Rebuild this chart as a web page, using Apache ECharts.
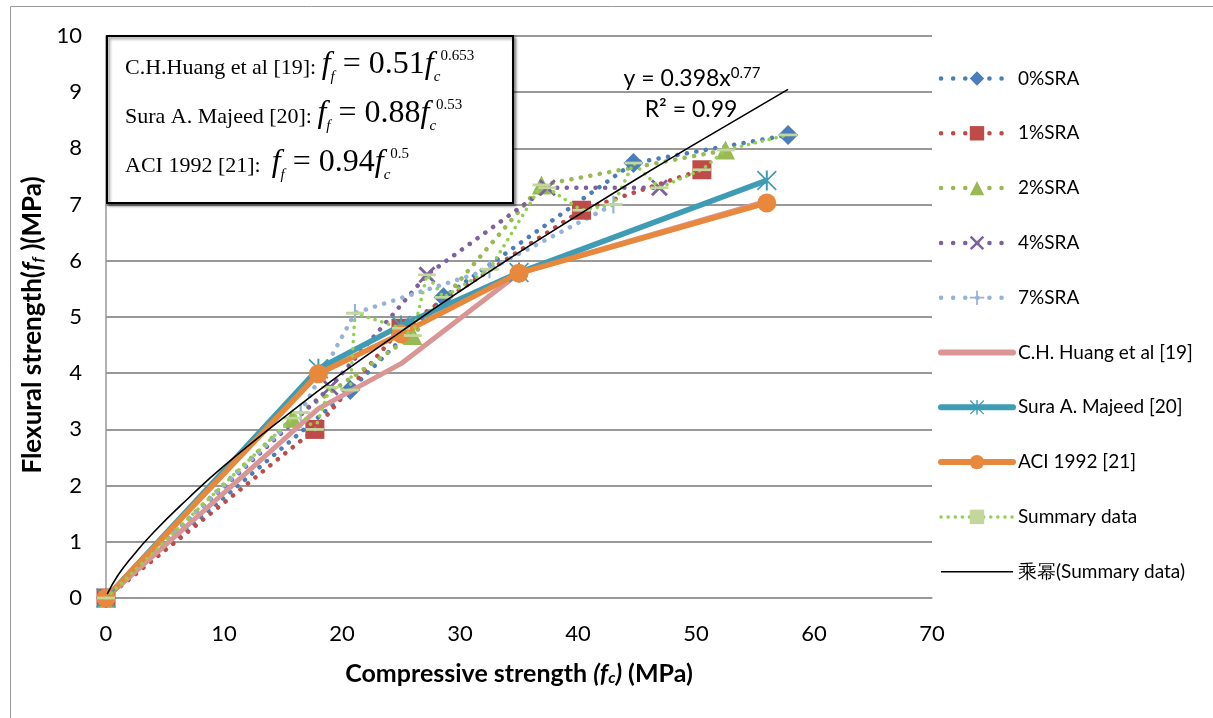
<!DOCTYPE html>
<html><head><meta charset="utf-8">
<script src="https://cdn.jsdelivr.net/npm/echarts@6/dist/echarts.min.js"></script>
<style>html,body{margin:0;padding:0;background:#fff}#c{width:1213px;height:718px}</style>
</head><body><div id="c"></div><script>
// ---- data ----
const xTicks = [0, 10, 20, 30, 40, 50, 60, 70];
const yTicks = [0, 1, 2, 3, 4, 5, 6, 7, 8, 9, 10];

const sra0x = [0, 20.7, 28.6, 44.7, 57.8];
const sra0y = [0, 3.70, 5.35, 7.74, 8.24];
const sra1x = [0, 17.7, 25.0, 40.3, 50.5];
const sra1y = [0, 3.00, 4.80, 6.90, 7.62];
const sra2x = [0, 15.8, 26.0, 36.9, 52.5];
const sra2y = [0, 3.20, 4.67, 7.35, 7.97];
const sra4x = [0, 19.0, 27.2, 37.4, 46.9];
const sra4y = [0, 3.75, 5.75, 7.30, 7.30];
const sra7x = [0, 16.5, 21.1, 32.5, 43.0];
const sra7y = [0, 3.30, 5.07, 5.85, 7.00];

const huangX = [0, 18, 25, 35, 56];
const huangY = [0, 3.37, 4.17, 5.78, 7.06];
const suraX = [0, 18, 25, 35, 56];
const suraY = [0, 4.08, 4.85, 5.79, 7.43];
const aciX = [0, 18, 25, 35, 56];
const aciY = [0, 3.99, 4.70, 5.78, 7.03];

const sumX = [0, 15.8, 16.5, 17.7, 19.0, 20.7, 21.1, 25.0, 26.0, 27.2, 28.6, 32.5, 36.9, 37.4, 40.3, 43.0, 44.7, 46.9, 50.5, 52.5, 57.8];
const sumY = [0, 3.20, 3.30, 3.00, 3.75, 3.70, 5.07, 4.80, 4.67, 5.75, 5.35, 5.85, 7.35, 7.30, 6.90, 7.00, 7.74, 7.30, 7.62, 7.97, 8.24];

const trendX = [0.1, 1, 2, 4, 7, 10, 15, 20, 25, 30, 35, 40, 45, 50, 57.8];
const trendY = [0.07, 0.40, 0.68, 1.16, 1.78, 2.35, 3.20, 4.00, 4.74, 5.46, 6.15, 6.81, 7.46, 8.09, 9.05];

const names = ['0%SRA', '1%SRA', '2%SRA', '4%SRA', '7%SRA', 'C.H. Huang et al [19]', 'Sura A. Majeed [20]', 'ACI 1992 [21]', 'Summary data', '乘幂(Summary data)'];
const trendLabel = ['y = 0.398x', '0.77', 'R² = 0.99'];

// ---- helpers ----
const pairs = (xs, ys) => xs.map((x, i) => [x, ys[i]]);
const SYM_X = 'path://M0,1.2 L1.2,0 L5,3.8 L8.8,0 L10,1.2 L6.2,5 L10,8.8 L8.8,10 L5,6.2 L1.2,10 L0,8.8 L3.8,5 Z';
const SYM_PLUS = 'path://M4.4,0 L5.6,0 L5.6,4.4 L10,4.4 L10,5.6 L5.6,5.6 L5.6,10 L4.4,10 L4.4,5.6 L0,5.6 L0,4.4 L4.4,4.4 Z';
const SYM_STAR = 'path://M4.5,0 L5.5,0 L5.5,10 L4.5,10 Z M0.6,0 L10,9.4 L9.4,10 L0,0.6 Z M9.4,0 L10,0.6 L0.6,10 L0,9.4 Z';
const SYM_DASH = 'path://M0,0 L18,0 L18,7 L0,7 Z';

const dotted = (color, w, gap) => ({ color, width: w, type: [0.1, gap], cap: 'round' });

function sraSeries(name, xs, ys, color, symbol, size) {
  return {
    name, type: 'line', data: pairs(xs, ys), symbol, symbolSize: size,
    itemStyle: { color }, lineStyle: dotted(color, 4.5, 9.5), z: 2
  };
}

const FF = 'Lato, "Open Sans", sans-serif';
const SERIF = '"Liberation Serif", "DejaVu Serif", serif';
const BLK = '#000';

const mathRich = {
  t: { fontFamily: SERIF, fontSize: 22, color: BLK, verticalAlign: 'bottom', padding: [0, 0, 7, 0] },
  m: { fontFamily: SERIF, fontSize: 32, fontStyle: 'italic', color: BLK, verticalAlign: 'bottom', padding: [0, 0, 5, 0] },
  e: { fontFamily: SERIF, fontSize: 32, color: BLK, verticalAlign: 'bottom', padding: [0, 0, 5, 0] },
  s: { fontFamily: SERIF, fontSize: 15, fontStyle: 'italic', color: BLK, verticalAlign: 'bottom', padding: [0, 0, 1, 0] },
  p: { fontFamily: SERIF, fontSize: 15, color: BLK, verticalAlign: 'bottom', padding: [0, 0, 22, 0] }
};

const dotLegend = (name, color) => ({ name, lineStyle: { color, width: 4.5, type: [0.1, 12], cap: 'round' } });

const chart = echarts.init(document.getElementById('c'), null, { renderer: 'canvas' });
chart.setOption({
  animation: false,
  backgroundColor: '#fff',
  grid: { left: 106, right: 281, top: 36, bottom: 120, containLabel: false },
  xAxis: {
    type: 'value', min: xTicks[0], max: xTicks[xTicks.length - 1], interval: 10,
    axisLine: { show: true, lineStyle: { color: '#989898', width: 1.5 } },
    axisTick: { show: false }, splitLine: { show: false },
    axisLabel: { fontFamily: FF, fontSize: 22, color: BLK, margin: 25 },
    name: '{b|Compressive strength }{i|(f}{is|c}{i|)}{b| (MPa)}',
    nameLocation: 'middle', nameGap: 63,
    nameTextStyle: {
      rich: {
        b: { fontFamily: FF, fontSize: 25, fontWeight: 'bold', color: BLK },
        i: { fontFamily: FF, fontSize: 25, fontWeight: 'bold', fontStyle: 'italic', color: BLK },
        is: { fontFamily: FF, fontSize: 16, fontWeight: 'bold', fontStyle: 'italic', color: BLK, verticalAlign: 'bottom' }
      }
    }
  },
  yAxis: {
    type: 'value', min: yTicks[0], max: yTicks[yTicks.length - 1], interval: 1,
    axisLine: { show: true, lineStyle: { color: '#989898', width: 1.5 } },
    axisTick: { show: false },
    splitLine: { show: true, lineStyle: { color: '#989898', width: 2 } },
    axisLabel: { fontFamily: FF, fontSize: 22, color: BLK, margin: 24 },
    name: '{b|Flexural strength(}{i|f}{is|f}{b| )(MPa)}',
    nameLocation: 'middle', nameGap: 28,
    nameTextStyle: {
      padding: [0, 16, 0, 0],
      rich: {
        b: { fontFamily: FF, fontSize: 26, fontWeight: 'bold', color: BLK },
        i: { fontFamily: FF, fontSize: 26, fontWeight: 'bold', fontStyle: 'italic', color: BLK },
        is: { fontFamily: FF, fontSize: 16, fontWeight: 'bold', fontStyle: 'italic', color: BLK, verticalAlign: 'bottom' }
      }
    }
  },
  legend: {
    orient: 'vertical', left: 933, top: 64, itemWidth: 72, itemHeight: 18, itemGap: 35.8,
    textStyle: { fontFamily: FF, fontSize: 19, color: BLK },
    data: [
      dotLegend(names[0], '#4A7EBB'),
      dotLegend(names[1], '#BE4B48'),
      dotLegend(names[2], '#98B954'),
      dotLegend(names[3], '#7D60A0'),
      dotLegend(names[4], '#95B3D7'),
      { name: names[5], itemStyle: { opacity: 0 }, lineStyle: { color: '#D99694', width: 6, cap: 'round' } },
      { name: names[6], lineStyle: { color: '#3E9CB5', width: 6, cap: 'round' } },
      { name: names[7], lineStyle: { color: '#E8883C', width: 6, cap: 'round' } },
      { name: names[8], lineStyle: { color: '#92D050', width: 3.5, type: [0.1, 7], cap: 'round' } },
      { name: names[9], itemStyle: { opacity: 0 }, lineStyle: { color: BLK, width: 1.6 } }
    ]
  },
  graphic: [
    { type: 'rect', left: 8, top: 4, shape: { width: 1210, height: 720 }, style: { fill: 'none', stroke: '#9a9a9a', lineWidth: 1 }, silent: true, z: -10 },
    { type: 'rect', shape: { x: 107, y: 36, width: 406, height: 167 },
      style: { fill: '#fff', stroke: BLK, lineWidth: 2, shadowBlur: 3, shadowOffsetX: 2, shadowOffsetY: 2, shadowColor: 'rgba(0,0,0,0.45)' }, z: 100 },
    { type: 'text', z: 101, style: { x: 125, y: 86, verticalAlign: 'bottom', text: '{t|C.H.Huang et al [19]: }{m|f}{s|f}{e| = 0.51}{m|f}{s|c}{p|0.653}', rich: mathRich } },
    { type: 'text', z: 101, style: { x: 125, y: 135, verticalAlign: 'bottom', text: '{t|Sura A. Majeed [20]: }{m|f}{s|f}{e| = 0.88}{m|f}{s|c}{p|0.53}', rich: mathRich } },
    { type: 'text', z: 101, style: { x: 125, y: 184, verticalAlign: 'bottom', text: '{t|ACI 1992 [21]:  }{m|f}{s|f}{e| = 0.94}{m|f}{s|c}{p|0.5}', rich: mathRich } },
    { type: 'text', z: 101, style: { x: 692, y: 78, align: 'center', verticalAlign: 'middle',
        text: '{n|' + trendLabel[0] + '}{p|' + trendLabel[1] + '}',
        rich: { n: { fontFamily: FF, fontSize: 23, color: BLK, verticalAlign: 'bottom' },
                p: { fontFamily: FF, fontSize: 15, color: BLK, verticalAlign: 'bottom', padding: [0, 0, 10, 0] } } } },
    { type: 'text', z: 101, style: { x: 691, y: 110, align: 'center', verticalAlign: 'middle', text: trendLabel[2], fontFamily: FF, fontSize: 23, fill: BLK } }
  ],
  series: [
    sraSeries(names[0], sra0x, sra0y, '#4A7EBB', 'diamond', 20),
    sraSeries(names[1], sra1x, sra1y, '#BE4B48', 'rect', 19),
    sraSeries(names[2], sra2x, sra2y, '#98B954', 'triangle', 19),
    sraSeries(names[3], sra4x, sra4y, '#7D60A0', SYM_X, 17),
    sraSeries(names[4], sra7x, sra7y, '#95B3D7', SYM_PLUS, 18),
    { name: names[5], type: 'line', data: pairs(huangX, huangY), symbol: 'none', itemStyle: { color: '#D99694' }, lineStyle: { color: '#D99694', width: 5 }, z: 3 },
    { name: names[6], type: 'line', data: pairs(suraX, suraY), symbol: SYM_STAR, symbolSize: 20, itemStyle: { color: '#3E9CB5' }, lineStyle: { color: '#3E9CB5', width: 5.5 }, z: 3 },
    { name: names[7], type: 'line', data: pairs(aciX, aciY), symbol: 'circle', symbolSize: 19, itemStyle: { color: '#E8883C' }, lineStyle: { color: '#E8883C', width: 5.5 }, z: 3 },
    { name: names[8], type: 'line', data: pairs(sumX, sumY), symbol: SYM_DASH, symbolKeepAspect: true, symbolSize: [18, 7], itemStyle: { color: '#C3D69B' }, lineStyle: dotted('#92D050', 3.5, 7), z: 4 },
    { name: names[9], type: 'line', data: pairs(trendX, trendY), symbol: 'none', smooth: true, itemStyle: { color: BLK }, lineStyle: { color: BLK, width: 1.6 }, z: 5 }
  ]
});
</script></body></html>
